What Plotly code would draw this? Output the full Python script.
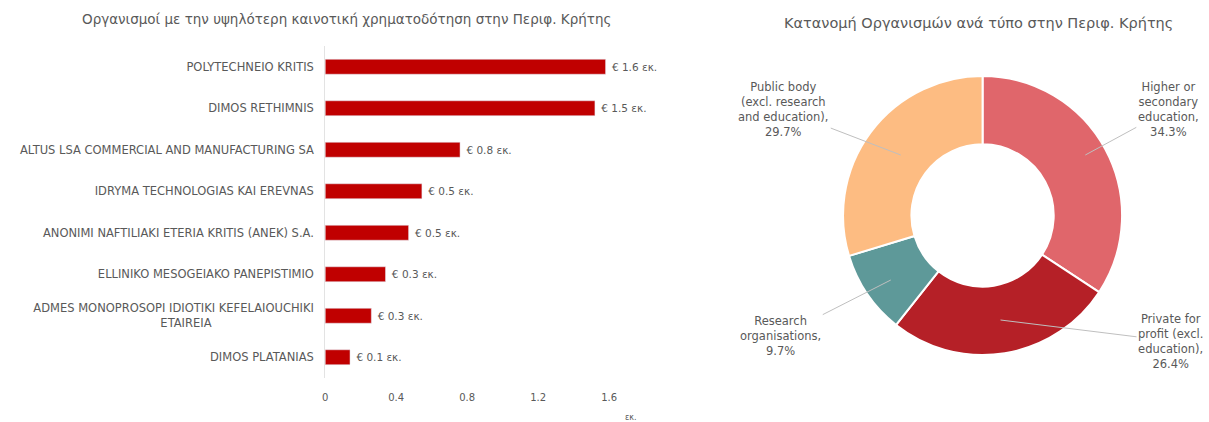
"""
Two charts side by side: top funded organisations (bar) and organisation types (donut).
"""
import plotly.graph_objects as go

# --- data ---
NB = "\u00a0"
organisations = [
    "POLYTECHNEIO KRITIS",
    "DIMOS RETHIMNIS",
    "ALTUS LSA COMMERCIAL AND MANUFACTURING SA",
    "IDRYMA TECHNOLOGIAS KAI EREVNAS",
    "ANONIMI NAFTILIAKI ETERIA KRITIS (ANEK) S.A.",
    "ELLINIKO MESOGEIAKO PANEPISTIMIO",
    "ADMES MONOPROSOPI IDIOTIKI KEFELAIOUCHIKI<br>ETAIREIA" + NB * 28,
    "DIMOS PLATANIAS",
]
funding = [1.58, 1.52, 0.76, 0.545, 0.47, 0.34, 0.26, 0.14]  # million EUR
funding_labels = ["€ 1.6 εκ.", "€ 1.5 εκ.", "€ 0.8 εκ.", "€ 0.5 εκ.",
                  "€ 0.5 εκ.", "€ 0.3 εκ.", "€ 0.3 εκ.", "€ 0.1 εκ."]
x_ticks = [0, 0.4, 0.8, 1.2, 1.6]

org_types = [
    "Higher or<br>secondary<br>education,",
    "Private for<br>profit (excl.<br>education),",
    "Research<br>organisations,",
    "Public body<br>(excl. research<br>and education),",
]
type_shares = [34.3, 26.4, 9.7, 29.7]
type_colors = ["#E0666B", "#B52027", "#5E9999", "#FDBC82"]

TEXT = "#595959"
FONT = "'DejaVu Sans', sans-serif"
W, H = 1209, 422

fig = go.Figure()

fig.add_trace(go.Bar(
    x=funding,
    y=organisations,
    orientation="h",
    marker=dict(color="#C00000"),
    text=[" " + t for t in funding_labels],
    textposition="outside",
    outsidetextfont=dict(size=10.5, color=TEXT, family=FONT),
    cliponaxis=False,
    hoverinfo="skip",
))

fig.add_trace(go.Pie(
    labels=org_types,
    values=type_shares,
    hole=0.51,
    sort=False,
    direction="clockwise",
    marker=dict(colors=type_colors, line=dict(color="white", width=2)),
    textinfo="none",
    showlegend=False,
    domain=dict(x=[842 / W, 1122 / W], y=[1 - 355 / H, 1 - 76 / H]),
))

# donut labels with leader lines: (text, tip x, tip y, label x, label y) in px
pie_labels = [
    (org_types[0] + "<br>" + f"{type_shares[0]}%", 1085, 155, 1168, 110),
    (org_types[1] + "<br>" + f"{type_shares[1]}%", 1000, 320, 1170, 341),
    (org_types[2] + "<br>" + f"{type_shares[2]}%", 890, 280, 780, 336),
    (org_types[3] + "<br>" + f"{type_shares[3]}%", 900, 155, 783, 110),
]
for text, tx, ty, lx, ly in pie_labels:
    fig.add_annotation(
        x=tx / W, y=1 - ty / H, xref="paper", yref="paper",
        ax=lx - tx, ay=ly - ty,
        xanchor="center", yanchor="middle",
        text=text, showarrow=True, arrowhead=0, arrowwidth=1,
        arrowcolor="#BFBFBF", standoff=0,
        font=dict(size=11.5, color=TEXT, family=FONT), align="center",
    )

fig.add_annotation(
    x=344 / W, y=1 - 19 / H, xref="paper", yref="paper",
    xanchor="center", yanchor="middle",
    text="Οργανισμοί με την υψηλότερη καινοτική χρηματοδότηση στην Περιφ. Κρήτης",
    showarrow=False, font=dict(size=13.5, color=TEXT, family=FONT),
)
fig.add_annotation(
    x=978 / W, y=1 - 23 / H, xref="paper", yref="paper",
    xanchor="center", yanchor="middle",
    text="Κατανομή Οργανισμών ανά τύπο στην Περιφ. Κρήτης",
    showarrow=False, font=dict(size=14.5, color=TEXT, family=FONT),
)
fig.add_annotation(
    x=630 / W, y=1 - 417 / H, xref="paper", yref="paper",
    xanchor="center", yanchor="middle",
    text="εκ.", showarrow=False, font=dict(size=8, color=TEXT, family=FONT),
)

fig.update_layout(
    xaxis=dict(
        domain=[323 / W, 661 / W],
        range=[0, 1.9],
        tickvals=x_ticks,
        ticktext=[f"{t:g}" for t in x_ticks],
        showgrid=False, zeroline=False, showline=False,
        tickfont=dict(size=10, color=TEXT, family=FONT),
        ticklabelstandoff=12,
    ),
    yaxis=dict(
        domain=[1 - 378 / H, 1 - 46 / H],
        autorange="reversed",
        showgrid=False, zeroline=False,
        showline=True, linecolor="#E3E3E3", linewidth=1,
        tickfont=dict(size=11.5, color=TEXT, family=FONT),
        ticklabelstandoff=8,
    ),
    width=W,
    height=H,
    margin=dict(l=0, r=0, t=0, b=0),
    bargap=0.64,
    plot_bgcolor="white",
    paper_bgcolor="white",
    showlegend=False,
    font=dict(family=FONT, color=TEXT),
)

# drop the default page margin so the figure sits at the window's corner
fig.write_html(
    "out.html",
    config={"displayModeBar": False},
    post_script="document.body.style.margin='0';",
)
